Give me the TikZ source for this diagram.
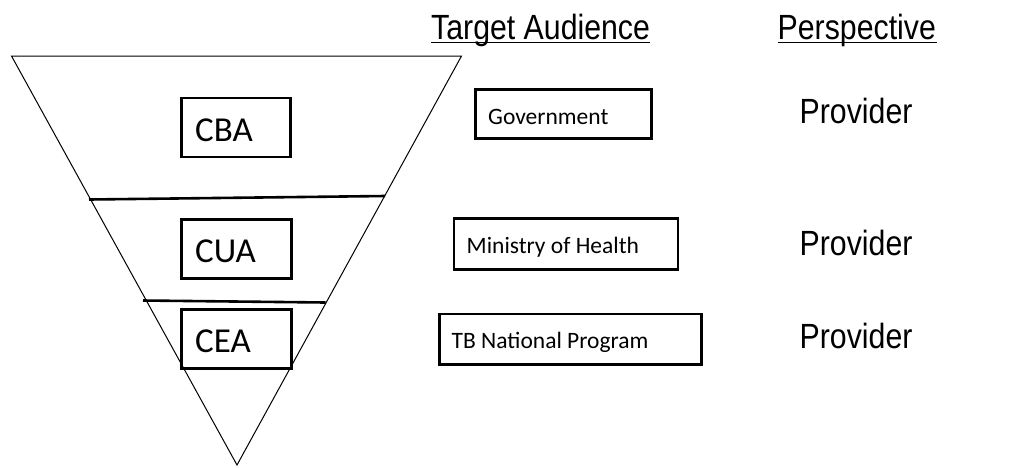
\documentclass[tikz,border=0pt]{standalone}
\usepackage{fontspec}
\setmainfont{Carlito}
\newfontfamily\arialn[FakeStretch=0.865]{Liberation Sans}
\begin{document}
\begin{tikzpicture}[x=1pt,y=-1pt,
  thinline/.style={line width=1pt},
  divider/.style={line width=2.6pt},
  box/.style={draw,line width=2.6pt,anchor=north west,inner sep=0pt},
  bigtxt/.style={anchor=base west,inner sep=0pt,font=\fontsize{35}{40}\selectfont},
  smalltxt/.style={anchor=base west,inner sep=0pt,font=\fontsize{23.5}{28}\selectfont},
  head/.style={anchor=base west,inner sep=0pt,font=\arialn\fontsize{35}{40}\selectfont},
  uline/.style={line width=1.5pt}]
\useasboundingbox (0,0) rectangle (1032,467);
% triangle
\coordinate (tl) at (11.5,56);
\coordinate (tr) at (461.5,56);
\coordinate (ap) at (237,465);
\draw[thinline,line join=miter] (tl) -- (tr) -- (ap) -- cycle;
% dividers
\coordinate (d1l) at (89,199.5);
\coordinate (d1r) at (385,196);
\coordinate (d2l) at (143,300.5);
\coordinate (d2r) at (325.5,302.5);
\draw[divider] (d1l) -- (d1r);
\draw[divider] (d2l) -- (d2r);
% left boxes
\node[box,minimum width=109,minimum height=59] (cba) at (180,96.7) {};
\node[bigtxt] (cbat) at (195,141.5) {CBA};
\node[box,minimum width=110,minimum height=59] (cua) at (180,218) {};
\node[bigtxt] (cuat) at (195,262) {CUA};
\node[box,minimum width=110,minimum height=59] (cea) at (180,308) {};
\node[bigtxt] (ceat) at (195,352) {CEA};
% audience boxes
\node[box,minimum width=176,minimum height=49] (gov) at (474,88.3) {};
\node[smalltxt] (govt) at (488,124) {Government};
\node[box,minimum width=224,minimum height=51] (moh) at (452.7,217.3) {};
\node[smalltxt] (moht) at (466.5,253.3) {Ministry of Health};
\node[box,minimum width=262,minimum height=50.5] (tb) at (438.3,312.7) {};
\node[smalltxt] (tbt) at (451.5,348) {TB National Program};
% headers
\node[head] (ta) at (431,39.5) {Target Audience};
\draw[uline] (ta.base west) ++(0,3) coordinate (ta1) -- ++(219,0) coordinate (ta2);
\node[head] (pe) at (777.5,39) {Perspective};
\draw[uline] (pe.base west) ++(0,3.5) coordinate (pe1) -- ++(159,0) coordinate (pe2);
% providers
\node[head] (p1) at (799.5,123) {Provider};
\node[head] (p2) at (799.5,255.5) {Provider};
\node[head] (p3) at (799.5,348.5) {Provider};
\end{tikzpicture}
\end{document}
